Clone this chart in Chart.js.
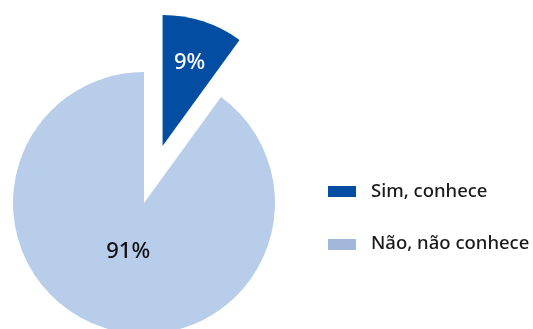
<!DOCTYPE html>
<html>
<head>
<meta charset="utf-8">
<script src="https://cdn.jsdelivr.net/npm/chart.js@4"></script>
<style>
  html, body { margin: 0; padding: 0; background: #ffffff; overflow: hidden; }
  canvas { display: block; }
</style>
</head>
<body>
<canvas id="c" width="533" height="329"></canvas>
<script>
// ---- data ----
const categories = ['Sim, conhece', 'Não, não conhece'];
const values = [10, 90];
const valueLabels = ['9%', '91%'];

// ---- styles ----
const sliceColors = ['#034ea2', '#b7cde9'];
const legendColors = ['#034ea2', '#a3b7d8'];
const labelColors = ['#ffffff', '#111111'];
const explodeDist = [60, 0];
const labelFrac = [0.67, 0.39];
const FONT = '"Noto Sans", "Open Sans", sans-serif';

const explodePlugin = {
  id: 'explode',
  beforeDatasetsDraw(chart) {
    const meta = chart.getDatasetMeta(0);
    meta.data.forEach((arc, i) => {
      if (arc._exploded) return;
      arc._exploded = true;
      arc.draw = function (ctx, area) {
        const d = explodeDist[i] || 0;
        const half = (this.startAngle + this.endAngle) / 2;
        ctx.save();
        ctx.translate(Math.cos(half) * d, Math.sin(half) * d);
        Chart.ArcElement.prototype.draw.call(this, ctx, area);
        ctx.restore();
      };
    });
  }
};

const labelPlugin = {
  id: 'sliceLabels',
  afterDatasetsDraw(chart) {
    const ctx = chart.ctx;
    const meta = chart.getDatasetMeta(0);
    ctx.save();
    ctx.font = '500 22px ' + FONT;
    ctx.textAlign = 'center';
    ctx.textBaseline = 'middle';
    meta.data.forEach((arc, i) => {
      const half = (arc.startAngle + arc.endAngle) / 2;
      const r = (explodeDist[i] || 0) + arc.outerRadius * labelFrac[i];
      ctx.fillStyle = labelColors[i];
      ctx.fillText(valueLabels[i], arc.x + Math.cos(half) * r, arc.y + Math.sin(half) * r);
    });
    ctx.restore();
  }
};

const legendPlugin = {
  id: 'sideLegend',
  afterDraw(chart) {
    const ctx = chart.ctx;
    const x0 = 328, y0 = 191.5, rowGap = 52.5, bw = 28, bh = 11, tx = 371;
    ctx.save();
    ctx.font = '500 18.5px ' + FONT;
    ctx.textBaseline = 'middle';
    ctx.textAlign = 'left';
    categories.forEach((c, i) => {
      const y = y0 + i * rowGap;
      ctx.fillStyle = legendColors[i];
      ctx.fillRect(x0, Math.round(y - bh / 2), bw, bh);
      ctx.fillStyle = '#1a1a1a';
      ctx.fillText(c, tx, y);
    });
    ctx.restore();
  }
};

new Chart(document.getElementById('c'), {
  type: 'pie',
  data: {
    labels: categories,
    datasets: [{
      data: values,
      backgroundColor: sliceColors,
      borderWidth: 0,
      radius: 131,
      clip: false
    }]
  },
  options: {
    responsive: false,
    animation: false,
    layout: { padding: { left: 0, right: 245, top: 77, bottom: 0 } },
    plugins: {
      legend: { display: false },
      tooltip: { enabled: false }
    },
    events: []
  },
  plugins: [explodePlugin, labelPlugin, legendPlugin]
});
</script>
</body>
</html>
